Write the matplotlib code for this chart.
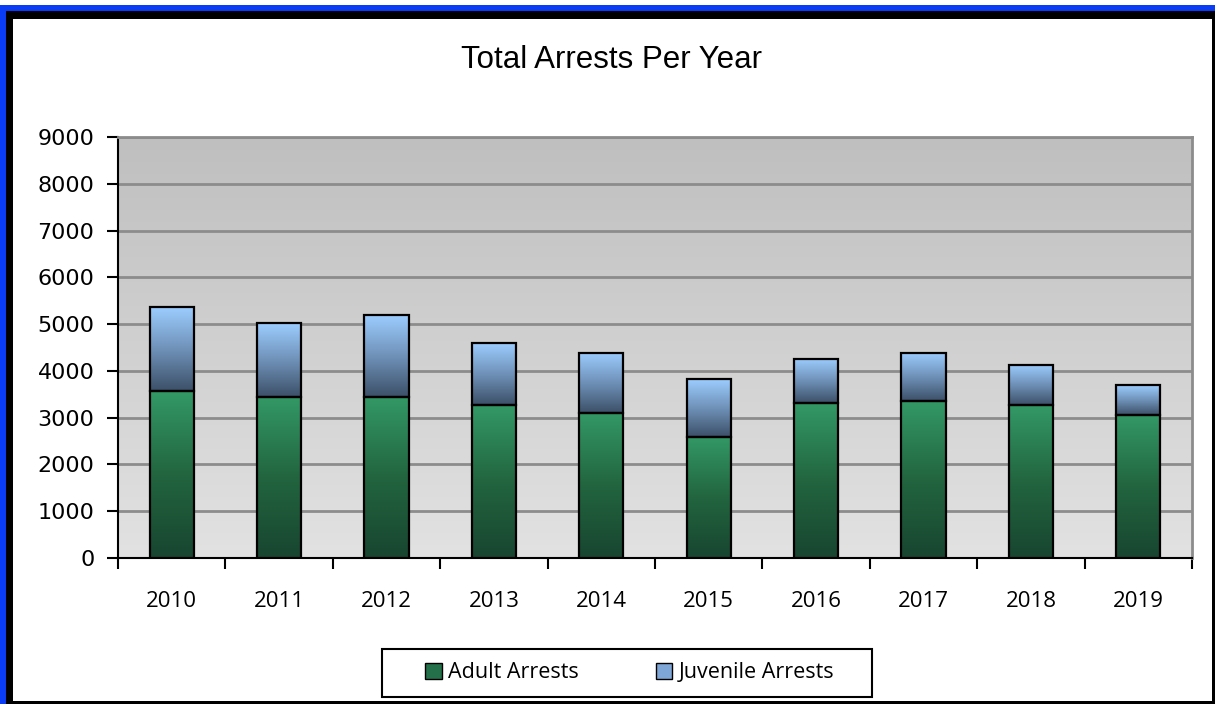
import numpy as np
import matplotlib
matplotlib.use("Agg")
import matplotlib.pyplot as plt
from matplotlib.colors import LinearSegmentedColormap
from matplotlib.patches import Rectangle, Patch

# Arrest counts by year
years = ["2010", "2011", "2012", "2013", "2014", "2015", "2016", "2017", "2018", "2019"]
adult = [3570, 3450, 3445, 3270, 3100, 2595, 3305, 3355, 3270, 3060]
juvenile = [1790, 1580, 1750, 1320, 1290, 1230, 950, 1030, 865, 640]

W, H = 1215, 704
fig = plt.figure(figsize=(W / 100, H / 100), dpi=100)
fig.patch.set_facecolor("white")


def px(x0, y0, x1, y1, color, fill=True, lw=0):
    """Rectangle in figure pixel coordinates (origin top-left)."""
    fig.add_artist(Rectangle((x0 / W, 1 - y1 / H), (x1 - x0) / W, (y1 - y0) / H,
                             transform=fig.transFigure,
                             facecolor=color if fill else "none",
                             edgecolor="none" if fill else color,
                             linewidth=lw, zorder=10))


# Outer frame: blue band then black band
px(0, 5, W, 11, "#0a3cf5")
px(0, 5, 6, H, "#0a3cf5")
px(6, 11, W, 19, "black")
px(6, 11, 13, H, "black")
px(1212, 11, W, H, "black")
px(6, 701, W, H, "black")

ax = fig.add_axes([118 / W, 1 - 558 / H, (1192 - 118) / W, (558 - 137) / H])

# Plot-area gradient (darker at top)
bg = LinearSegmentedColormap.from_list("bg", ["#e2e2e2", "#bfbfbf"])
ax.imshow(np.linspace(0, 1, 256).reshape(-1, 1), cmap=bg, origin="lower",
          extent=[0, 1, 0, 1], transform=ax.transAxes, aspect="auto", zorder=0)

green = LinearSegmentedColormap.from_list("g", ["#184530", "#22653f", "#339966"])
blue = LinearSegmentedColormap.from_list("b", ["#3c5068", "#6f91b8", "#9ccdff"])
grad = np.linspace(0, 1, 256).reshape(-1, 1)

x = np.arange(len(years))
bw = 0.41
ax.bar(x, adult, bw, facecolor="none", edgecolor="black", linewidth=1.6, zorder=4)
ax.bar(x, juvenile, bw, bottom=adult, facecolor="none", edgecolor="black",
       linewidth=1.6, zorder=4)
for xi, a, j in zip(x, adult, juvenile):
    ax.imshow(grad, cmap=green, origin="lower", aspect="auto",
              extent=[xi - bw / 2, xi + bw / 2, 0, a], zorder=3)
    ax.imshow(grad, cmap=blue, origin="lower", aspect="auto",
              extent=[xi - bw / 2, xi + bw / 2, a, a + j], zorder=3)

ax.set_xlim(-0.5, len(years) - 0.5)
ax.set_ylim(0, 9000)
ax.set_yticks(np.arange(0, 9001, 1000))
ax.yaxis.grid(True, color="#8c8c8c", linewidth=2)
ax.set_axisbelow(True)

ax.set_xticks(np.arange(-0.5, len(years), 1.0))
ax.set_xticklabels([])
ax.set_xticks(x, minor=True)
ax.set_xticklabels(years, minor=True, fontfamily="Open Sans", fontsize=16)
ax.tick_params(axis="x", which="major", length=8, width=1.5, direction="out")
ax.tick_params(axis="x", which="minor", length=0, pad=24)
ax.tick_params(axis="y", length=8, width=1.5, direction="out", pad=9,
               labelsize=16)

for side in ("left", "bottom"):
    ax.spines[side].set_color("black")
    ax.spines[side].set_linewidth(1.5)
for side in ("top", "right"):
    ax.spines[side].set_color("#8c8c8c")
    ax.spines[side].set_linewidth(2)

fig.text(612 / W, 1 - 60 / H, "Total Arrests Per Year", ha="center", va="center",
         fontfamily="Liberation Sans", fontsize=22.5)

# Legend: entries without frame, plus a separate box around them
px(382, 649, 872, 697, "black", fill=False, lw=1.5)
handles = [Patch(facecolor="#24704a", edgecolor="black", label="Adult Arrests"),
           Patch(facecolor="#7ea6d6", edgecolor="black", label="Juvenile Arrests")]
leg = fig.legend(handles=handles, loc="center", ncol=2,
                 bbox_to_anchor=(630 / W, 1 - 673 / H), frameon=False,
                 prop={"family": "Open Sans", "size": 15.5}, handlelength=0.75,
                 handleheight=0.75, handletextpad=0.3, columnspacing=3.6,
                 borderpad=0, borderaxespad=0)

fig.savefig("out.png", dpi=100)
